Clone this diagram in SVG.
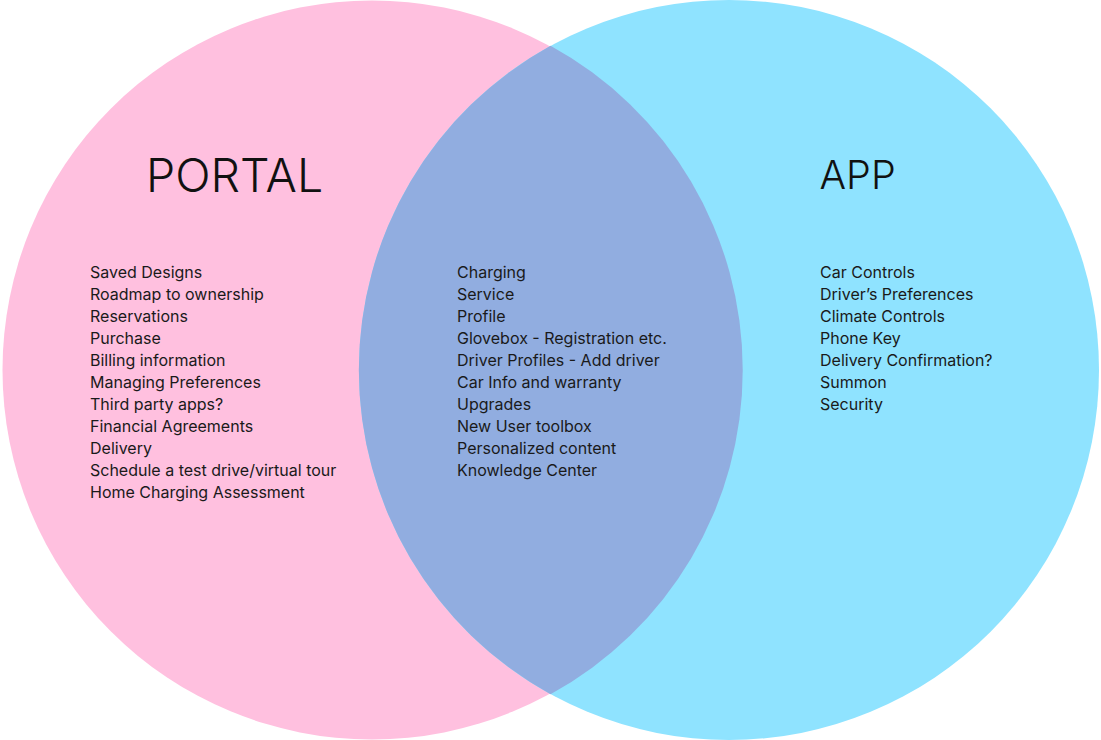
<svg xmlns="http://www.w3.org/2000/svg" width="1101" height="740" viewBox="0 0 1101 740">
<style>
.title{font-family:Inter,"Noto Sans",sans-serif;font-weight:300;fill:#111}
.item{font-family:Inter,"Noto Sans",sans-serif;font-size:16px;fill:#1a1a1a}
</style>
<rect width="1101" height="740" fill="#ffffff"/>
<g id="portal">
<circle cx="372" cy="370" r="369.5" fill="#FFC0DF"/>
</g>
<g id="app">
<circle cx="729" cy="370" r="370" fill="#8FE3FF"/>
</g>
<g id="overlap">
<path d="M550.5,45.8 A369.5,369.5 0 0,1 550.5,694.2 A370,370 0 0,1 550.5,45.8 Z" fill="#91ADE0"/>
</g>
<g id="connectors"></g>
<g id="portal-text">
<text class="title" x="146" y="192" font-size="46.5">PORTAL</text>
<text class="item" x="90" y="278">Saved Designs</text>
<text class="item" x="90" y="300">Roadmap to ownership</text>
<text class="item" x="90" y="322">Reservations</text>
<text class="item" x="90" y="344">Purchase</text>
<text class="item" x="90" y="366">Billing information</text>
<text class="item" x="90" y="388">Managing Preferences</text>
<text class="item" x="90" y="410">Third party apps?</text>
<text class="item" x="90" y="432">Financial Agreements</text>
<text class="item" x="90" y="454">Delivery</text>
<text class="item" x="90" y="476">Schedule a test drive/virtual tour</text>
<text class="item" x="90" y="498">Home Charging Assessment</text>
</g>
<g id="shared-text">
<text class="item" x="457" y="278">Charging</text>
<text class="item" x="457" y="300">Service</text>
<text class="item" x="457" y="322">Profile</text>
<text class="item" x="457" y="344">Glovebox - Registration etc.</text>
<text class="item" x="457" y="366">Driver Profiles - Add driver</text>
<text class="item" x="457" y="388">Car Info and warranty</text>
<text class="item" x="457" y="410">Upgrades</text>
<text class="item" x="457" y="432">New User toolbox</text>
<text class="item" x="457" y="454">Personalized content</text>
<text class="item" x="457" y="476">Knowledge Center</text>
</g>
<g id="app-text">
<text class="title" x="819.5" y="189" font-size="39.5">APP</text>
<text class="item" x="820" y="278">Car Controls</text>
<text class="item" x="820" y="300">Driver’s Preferences</text>
<text class="item" x="820" y="322">Climate Controls</text>
<text class="item" x="820" y="344">Phone Key</text>
<text class="item" x="820" y="366">Delivery Confirmation?</text>
<text class="item" x="820" y="388">Summon</text>
<text class="item" x="820" y="410">Security</text>
</g>
</svg>
